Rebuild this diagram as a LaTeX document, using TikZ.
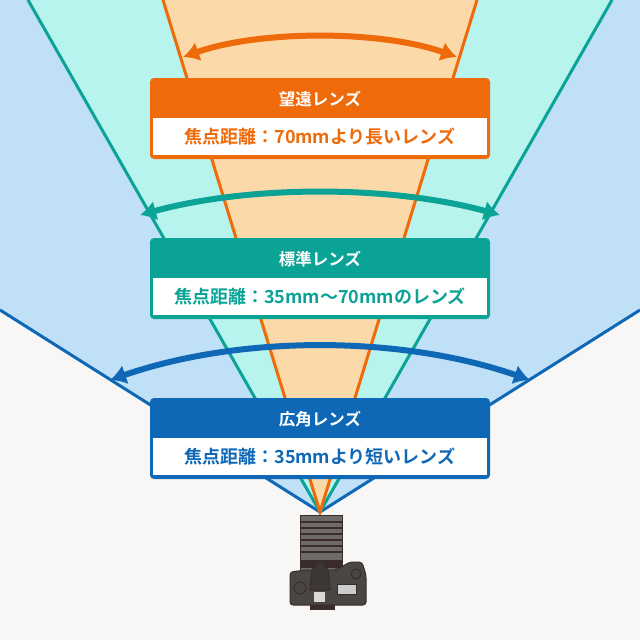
\documentclass[tikz,border=0pt]{standalone}
\usepackage{fontspec}
\newfontfamily\jp{Noto Sans CJK JP}[BoldFont={* Bold}]
\definecolor{og}{HTML}{EE6A0A}
\definecolor{tl}{HTML}{0AA396}
\definecolor{bl}{HTML}{0E68B6}
\definecolor{ogl}{HTML}{FCD9A8}
\definecolor{tll}{HTML}{B8F4EE}
\definecolor{bll}{HTML}{C0E0F8}
\definecolor{bg}{HTML}{F8F7F5}
\definecolor{cam}{HTML}{4A4644}
\definecolor{camd}{HTML}{3A2C2A}
\begin{document}
\begin{tikzpicture}[x=1pt,y=-1pt,
  dbl/.style={line width=6pt,{Latex[length=16pt,width=20pt]}-{Latex[length=16pt,width=20pt]}},
  hdr/.style={font=\jp\bfseries\fontsize{16.5}{18}\selectfont,text=white},
  sub/.style={font=\jp\bfseries\fontsize{18}{20}\selectfont}]
\usetikzlibrary{arrows.meta}
\useasboundingbox (0,0) rectangle (640,640);
\fill[bg] (0,0) rectangle (640,640);
\coordinate (ap) at (320,512);
\fill[bll] (0,0) -- (640,0) -- (640,310) -- (ap) -- (0,310) -- cycle;
\fill[tll] (28,0) -- (612,0) -- (ap) -- cycle;
\fill[ogl] (163,0) -- (477,0) -- (ap) -- cycle;
\draw[bl,line width=3pt] (0,310) -- (ap) -- (640,310);
\draw[tl,line width=3pt] (28,0) -- (ap) -- (612,0);
\draw[og,line width=3pt] (163,0) -- (ap) -- (477,0);
\draw[og,dbl] (183,57) .. controls (260,30) and (380,30) .. (457,57);
\draw[tl,dbl] (140,215) .. controls (250,185) and (390,185) .. (500,215);
\draw[bl,dbl] (110,380) .. controls (240,335) and (400,335) .. (530,380);
\foreach \y/\c/\t/\s in {78/og/望遠レンズ/焦点距離：70mmより長いレンズ, 238/tl/標準レンズ/焦点距離：35mm〜70mmのレンズ, 398/bl/広角レンズ/焦点距離：35mmより短いレンズ}{
  \fill[\c,rounded corners=4pt] (150,\y) rectangle (490,\y+81);
  \fill[white] (153,\y+40) rectangle (487,\y+77);
  \node[hdr] at (320,\y+21) {\t};
  \node[sub,text=\c] at (320,\y+59) {\s};
}
\begin{scope}[draw=camd,line width=1pt]
\fill[cam!80!white,draw=camd] (300,515) rectangle (342,570);
\foreach \yy in {522,528,534,540,546,552} \draw[camd,line width=1.2pt] (300,\yy) -- (342,\yy);
\fill[camd] (300,560) rectangle (342,568);
\fill[cam,draw=camd,rounded corners=3pt] (290,572) -- (306,570) -- (336,570) -- (350,562) -- (362,562) -- (366,575) -- (366,605) -- (290,605) -- cycle;
\fill[cam!80!black,draw=camd] (312,570) -- (320,560) -- (328,570) -- (330,590) -- (310,590) -- cycle;
\fill[white!70!gray] (314,592) rectangle (325,602);
\fill[white!60!gray,draw=camd] (337,584) rectangle (356,594);
\draw[fill=cam] (300,588) circle (6);
\draw[fill=cam] (356,574) circle (5);
\fill[camd] (310,605) rectangle (335,610);
\end{scope}
\end{tikzpicture}
\end{document}
